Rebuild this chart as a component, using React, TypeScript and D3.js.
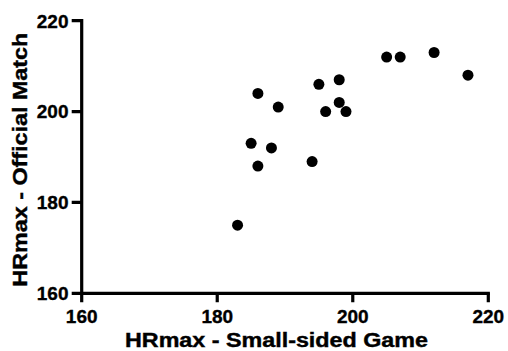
import React from "react";
import * as d3 from "d3";

const smallSided: number[] = [183, 185, 186, 186, 188, 189, 194, 195, 196, 198, 198, 199, 205, 207, 212, 217];
const officialMatch: number[] = [175, 193, 204, 188, 192, 201, 189, 206, 200, 207, 202, 200, 212, 212, 213, 208];
const xTicks: number[] = [160, 180, 200, 220];
const yTicks: number[] = [160, 180, 200, 220];
const xTitle = "HRmax - Small-sided Game";
const yTitle = "HRmax - Official Match";

const W = 508;
const H = 351;
const FONT = "'Liberation Sans', Arial, Helvetica, sans-serif";

export default function App() {
  const x = d3.scaleLinear().domain([160, 220]).range([81.7, 488.3]);
  const y = d3.scaleLinear().domain([160, 220]).range([293.3, 20.7]);
  const fmt = d3.format("d");
  const x0 = x(160);
  const y0 = y(160);
  const textStyle: React.CSSProperties = {
    fontFamily: FONT,
    fontWeight: "bold",
  };

  const axisPath = d3.path();
  axisPath.moveTo(x0, y(220));
  axisPath.lineTo(x0, y0);
  axisPath.lineTo(x(220), y0);
  const tickPath = d3.path();
  xTicks.forEach((t) => {
    tickPath.moveTo(x(t), y0);
    tickPath.lineTo(x(t), y0 + 9);
  });
  yTicks.forEach((t) => {
    tickPath.moveTo(x0, y(t));
    tickPath.lineTo(x0 - 10, y(t));
  });

  return (
    <svg
      width={W}
      height={H}
      viewBox={`0 0 ${W} ${H}`}
      style={{ position: "absolute", left: 0, top: 0, background: "#fff" }}
    >
      <path d={axisPath.toString()} fill="none" stroke="#000" strokeWidth={3.2} strokeLinecap="square" />
      <path d={tickPath.toString()} fill="none" stroke="#000" strokeWidth={3.2} />
      {xTicks.map((t) => (
        <text
          key={"x" + t}
          x={x(t)}
          y={323}
          textAnchor="middle"
          fontSize={19}
          stroke="#000"
          strokeWidth={0.35}
          style={textStyle}
        >
          {fmt(t)}
        </text>
      ))}
      {yTicks.map((t) => (
        <text
          key={"y" + t}
          x={68.5}
          y={y(t)}
          dy="0.36em"
          textAnchor="end"
          fontSize={19}
          stroke="#000"
          strokeWidth={0.35}
          style={textStyle}
        >
          {fmt(t)}
        </text>
      ))}
      {smallSided.map((v, i) => (
        <circle key={i} cx={x(v)} cy={y(officialMatch[i])} r={5.5} fill="#000" />
      ))}
      <text
        x={276.5}
        y={347}
        textAnchor="middle"
        textLength={303}
        lengthAdjust="spacingAndGlyphs"
        fontSize={19.5}
        stroke="#000"
        strokeWidth={0.4}
        style={textStyle}
      >
        {xTitle}
      </text>
      <text
        transform="translate(27,159.7) rotate(-90)"
        textAnchor="middle"
        textLength={254}
        lengthAdjust="spacingAndGlyphs"
        fontSize={19.5}
        stroke="#000"
        strokeWidth={0.4}
        style={textStyle}
      >
        {yTitle}
      </text>
    </svg>
  );
}
